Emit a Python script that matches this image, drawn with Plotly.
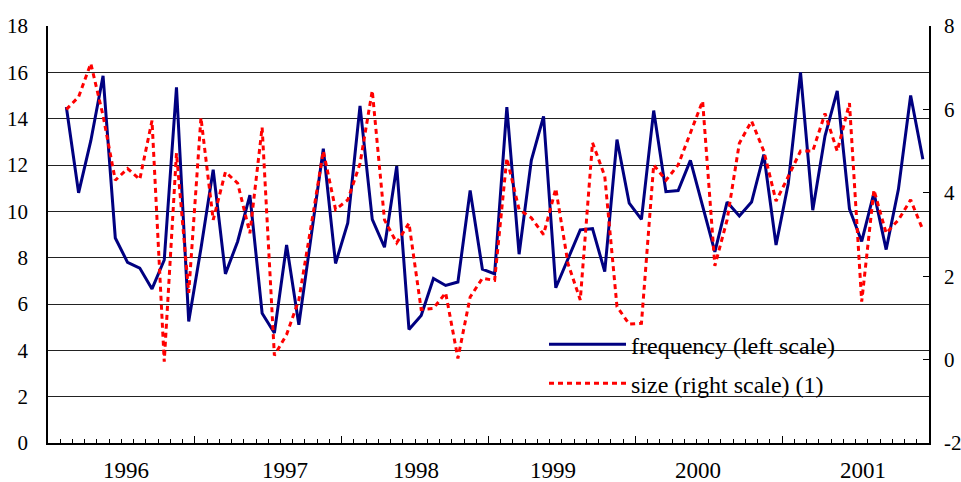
import numpy as np
import plotly.graph_objects as go

# monthly observations (months 2..72 of the 72-month category axis)
frequency = [14.5, 10.8, 13.05, 15.85, 8.85, 7.8, 7.55, 6.65, 7.9, 15.35, 5.25,
             8.4, 11.8, 7.3, 8.7, 10.7, 5.6, 4.75, 8.55, 5.1, 8.9, 12.7, 7.75,
             9.5, 14.55, 9.65, 8.45, 11.95, 4.9, 5.5, 7.1, 6.8, 6.95, 10.9, 7.5,
             7.3, 14.5, 8.15, 12.2, 14.1, 6.7, 7.95, 9.2, 9.25, 7.4, 13.1, 10.35,
             9.65, 14.35, 10.85, 10.9, 12.2, 10.25, 8.25, 10.4, 9.8, 10.4, 12.45, 8.55,
             11.2, 16.0, 10.05, 13.25, 15.2, 10.1, 8.7, 10.8, 8.35, 10.95, 15.0, 12.25]
size = [6.0, 6.3, 7.1, 5.85, 4.3, 4.58, 4.32, 5.73, -0.05, 4.95, 1.6,
        5.8, 3.35, 4.5, 4.23, 3.03, 5.57, 0.1, 0.6, 1.43, 3.2, 5.0, 3.6,
        3.83, 4.7, 6.45, 3.35, 2.8, 3.27, 1.2, 1.23, 1.6, 0.03, 1.5, 1.95,
        1.9, 4.83, 3.6, 3.4, 3.0, 4.1, 2.3, 1.43, 5.2, 4.4, 1.27, 0.85,
        0.87, 4.67, 4.3, 4.67, 5.43, 6.2, 2.25, 3.35, 5.19, 5.72, 5.0, 3.8,
        4.39, 5.0, 5.0, 5.9, 5.0, 6.15, 1.39, 4.07, 3.03, 3.35, 3.83, 3.11]
year_labels = ["1996", "1997", "1998", "1999", "2000", "2001"]
year_label_pos = [6.37, 19.4, 30.1, 41.3, 53.1, 66.6]
right_ticks = [-2, 0, 2, 4, 6, 8]
right_ticktext = ["-2", "0", "2", "4", "6", "8"]
n_months = 72

x = np.arange(1, len(frequency) + 1) + 0.5
FONT = "'Liberation Serif', 'Times New Roman', Times, serif"

fig = go.Figure()
fig.add_trace(go.Scatter(x=x, y=frequency, mode="lines", name="frequency (left scale)",
                         line=dict(color="#000080", width=3), legendgroup="a"))
fig.add_trace(go.Scatter(x=x, y=size, mode="lines", name="size (right scale) (1)",
                         line=dict(color="#FF0000", width=3, dash="5px,4px"),
                         yaxis="y2", legendgroup="b"))

for lab, pos in zip(year_labels, year_label_pos):
    fig.add_annotation(x=pos, y=0, xref="x", yref="paper", text=lab, showarrow=False,
                       yshift=-27, yanchor="middle", font=dict(family=FONT, size=23, color="black"))

# white panel behind the legend that hides the gridlines (drawn under the traces)
fig.add_shape(type="rect", xref="paper", yref="paper", x0=0.5607, x1=0.9058,
              y0=0.079, y1=0.265, fillcolor="white", line=dict(width=0), layer="between")

fig.update_layout(
    width=961, height=482,
    margin=dict(l=48, r=32, t=26, b=39, autoexpand=False),
    paper_bgcolor="white", plot_bgcolor="white",
    font=dict(family=FONT, size=20, color="black"),
    showlegend=True,
    legend=dict(x=0.563, y=0.29, xanchor="left", yanchor="top", bgcolor="rgba(0,0,0,0)",
                borderwidth=0, font=dict(family=FONT, size=24, color="black"),
                traceorder="grouped", tracegroupgap=5, itemwidth=77),
    xaxis=dict(range=[0, n_months], showgrid=False, zeroline=False, showline=True,
               linecolor="black", linewidth=2, ticks="inside", ticklen=7, tickcolor="black",
               tick0=0, dtick=12, showticklabels=False, automargin=False,
               minor=dict(ticks="inside", ticklen=4, dtick=1, tick0=0, tickcolor="black")),
    yaxis=dict(range=[0, 18], dtick=2, showgrid=True, gridcolor="#222", gridwidth=1,
               zeroline=False, showline=True, linecolor="black", linewidth=1.5,
               ticks="", ticklabelstandoff=14, automargin=False,
               tickfont=dict(family=FONT, size=21)),
    yaxis2=dict(range=[-2, 8], tickvals=right_ticks, ticktext=right_ticktext,
                overlaying="y", side="right", showgrid=False, automargin=False,
                zeroline=False, showline=True, linecolor="black", linewidth=1.5,
                ticks="inside", ticklen=6, tickcolor="black", ticklabelstandoff=9,
                tickfont=dict(family=FONT, size=21)),
)

fig.write_html("out.html")
